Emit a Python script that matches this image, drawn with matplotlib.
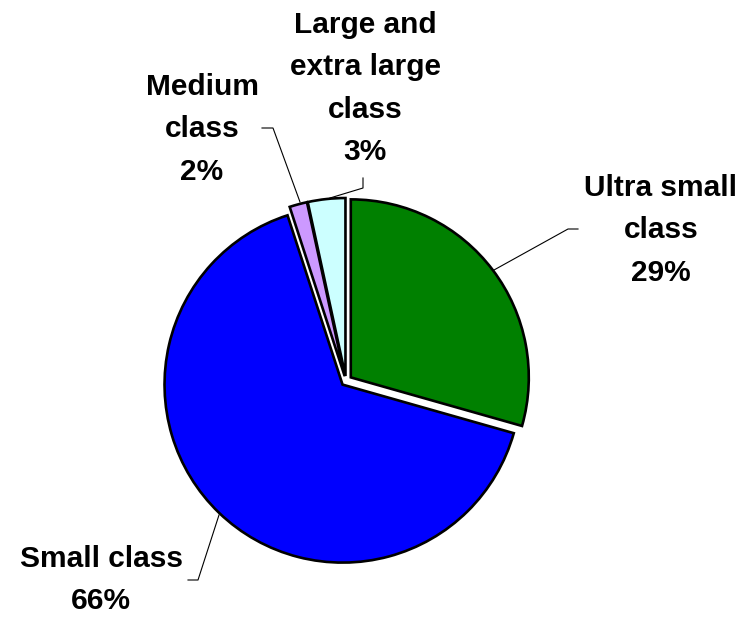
import matplotlib
matplotlib.use("Agg")
import matplotlib.pyplot as plt

categories = ["Ultra small class", "Small class", "Medium class", "Large and extra large class"]
values = [29.4, 65.6, 1.6, 3.4]
colors = ["#008000", "#0000FF", "#CC99FF", "#CCFFFF"]
label_lines = [["Ultra small", "class"], ["Small class"], ["Medium", "class"], ["Large and", "extra large", "class"]]

W, H = 751, 617
fig = plt.figure(figsize=(W / 100, H / 100), dpi=100)
ax = fig.add_axes([0, 0, 1, 1])
ax.set_xlim(0, W)
ax.set_ylim(0, H)
ax.axis("off")

def Y(py):
    return H - py

ax.pie(values, colors=colors, startangle=90, counterclock=False,
       center=(346, Y(381)), radius=178, explode=[6, 5, 5, 5],
       wedgeprops=dict(edgecolor="black", linewidth=1.9))
ax.set_xlim(0, W)
ax.set_ylim(0, H)
ax.set_aspect("equal")

total = sum(values)
pcts = [f"{v / total * 100:.0f}%" for v in values]

# label placement: (center x, first baseline y) in pixels
label_pos = [(661, 196), (101, 567), (202, 95), (365, 33)]
leaders = [
    [(494, 270), (568, 229), (578, 229)],
    [(219, 515), (198, 580), (188, 580)],
    [(300, 202), (273, 128), (262, 128)],
    [(330, 198), (363, 188), (363, 178)],
]
step = 42.4
font = dict(family="Liberation Sans", weight="bold", size=21.5)
for lines, pct, (cx, by), pts in zip(label_lines, pcts, label_pos, leaders):
    for i, t in enumerate(lines + [pct]):
        ax.text(cx, Y(by + i * step), t, ha="center", va="baseline", **font)
    ax.plot([p[0] for p in pts], [Y(p[1]) for p in pts], color="black", lw=0.8)

fig.savefig("out.png", dpi=100)
